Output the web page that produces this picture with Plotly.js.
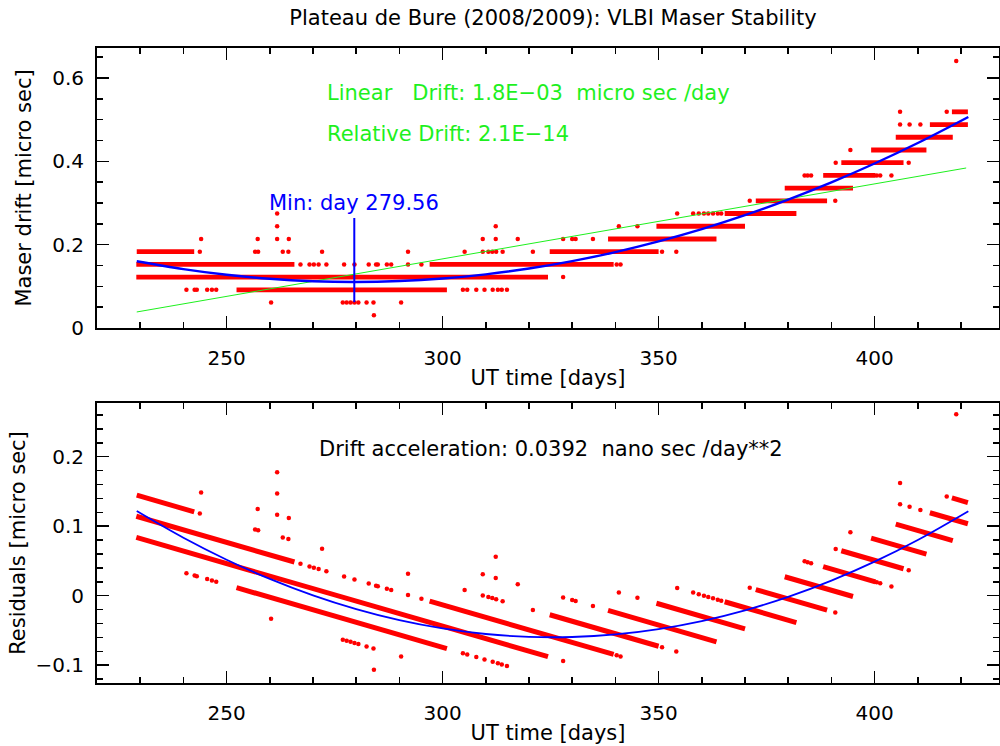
<!DOCTYPE html>
<html>
<head>
<meta charset="utf-8">
<script src="https://cdn.plot.ly/plotly-3.0.1.min.js"></script>
<style>html,body{margin:0;padding:0;background:#fff;}#chart{width:1000px;height:746px;}</style>
</head>
<body>
<div id="chart"></div>
<script>
// ---- Dense runs of samples (quantised maser drift levels, micro sec) ----
const segLevel = [0.1831,0.1831,0.1526,0.1526,0.1221,0.0916,0.2136,0.2441,0.2747,0.3052,0.3357,0.3662,0.3967,0.4272,0.4578,0.4883,0.5188];
const segStart = [229.2,324.8,229.1,297.0,229.1,252.3,338.3,349.5,365.3,372.5,379.2,388.1,392.3,399.2,404.9,412.8,417.9];
const segEnd   = [242.5,350.0,265.7,339.6,324.4,301.0,363.4,370.0,381.9,389.0,395.0,400.2,406.7,412.0,418.1,421.6,421.6];
// residuals at the start / end of each run
const segResStart = [0.1447,-0.0274,0.1144,-0.0078,0.0839,0.0116,-0.0212,-0.0108,-0.0087,0.0089,0.0273,0.0418,0.0647,0.0828,0.1031,0.1194,0.1407];
const segResEnd   = [0.1208,-0.0727,0.0485,-0.0845,-0.0877,-0.0760,-0.0664,-0.0477,-0.0386,-0.0208,-0.0011,0.0200,0.0388,0.0598,0.0794,0.1036,0.1341];

// ---- Isolated samples ----
const dotDay = [
  243.8,256.6,257.3,263.0,264.3,272.1,292.0,305.1,309.3,310.6,311.5,312.4,313.9,320.9,350.8,354.1,
  267.1,269.2,270.2,271.3,273.1,277.2,279.6,282.9,284.6,285.0,287.1,288.1,292.0,295.1,340.3,341.2,
  327.9,
  240.7,242.6,243.1,245.5,246.6,247.6,304.7,305.7,307.8,309.7,311.6,312.8,313.7,314.9,
  260.3,276.9,277.8,278.7,279.6,280.5,282.4,284.0,290.4,
  284.1,
  244.1,257.2,261.7,264.4,309.3,312.3,317.4,327.9,330.0,330.8,334.8,
  261.7,312.3,340.8,345.1,
  261.7,354.3,358.0,359.3,360.5,361.5,362.6,363.7,364.5,
  371.1,390.9,
  383.8,384.5,385.3,400.5,401.3,403.9,
  391.0,407.9,
  394.4,
  405.9,408.1,410.6,
  405.9,416.7,
  418.9];
const dotLevel = [
  0.1831,0.1831,0.1831,0.1831,0.1831,0.1831,0.1831,0.1831,0.1831,0.1831,0.1831,0.1831,0.1831,0.1831,0.1831,0.1831,
  0.1526,0.1526,0.1526,0.1526,0.1526,0.1526,0.1526,0.1526,0.1526,0.1526,0.1526,0.1526,0.1526,0.1526,0.1526,0.1526,
  0.1221,
  0.0916,0.0916,0.0916,0.0916,0.0916,0.0916,0.0916,0.0916,0.0916,0.0916,0.0916,0.0916,0.0916,0.0916,
  0.0611,0.0611,0.0611,0.0611,0.0611,0.0611,0.0611,0.0611,0.0611,
  0.0305,
  0.2136,0.2136,0.2136,0.2136,0.2136,0.2136,0.2136,0.2136,0.2136,0.2136,0.2136,
  0.2441,0.2441,0.2441,0.2441,
  0.2747,0.2747,0.2747,0.2747,0.2747,0.2747,0.2747,0.2747,0.2747,
  0.3052,0.3052,
  0.3662,0.3662,0.3662,0.3662,0.3662,0.3662,
  0.3967,0.3967,
  0.4272,
  0.4883,0.4883,0.4883,
  0.5188,0.5188,
  0.6409];
const dotResid = [
  0.1184,0.0954,0.0941,0.0839,0.0815,0.0675,0.0317,0.0081,0.0005,-0.0018,-0.0034,-0.0051,-0.0078,-0.0204,-0.0742,-0.0801,
  0.0460,0.0422,0.0404,0.0384,0.0352,0.0278,0.0235,0.0175,0.0145,0.0138,0.0100,0.0082,0.0012,-0.0044,-0.0858,-0.0874,
  -0.0940,
  0.0325,0.0291,0.0282,0.0239,0.0219,0.0201,-0.0827,-0.0845,-0.0883,-0.0917,-0.0951,-0.0973,-0.0989,-0.1011,
  -0.0333,-0.0632,-0.0648,-0.0664,-0.0680,-0.0696,-0.0731,-0.0759,-0.0875,
  -0.1067,
  0.1484,0.1248,0.1167,0.1118,0.0310,0.0256,0.0164,-0.0025,-0.0062,-0.0077,-0.0149,
  0.1472,0.0561,0.0048,-0.0029,
  0.1778,0.0111,0.0045,0.0021,0.0000,-0.0018,-0.0038,-0.0058,-0.0072,
  0.0114,-0.0243,
  0.0495,0.0483,0.0468,0.0195,0.0180,0.0133,
  0.0671,0.0366,
  0.0914,
  0.1318,0.1279,0.1234,
  0.1623,0.1429,
  0.2610];

// ---- Fits ----
const linDays = [229.2, 421.2];
const linVals = [0.0384, 0.384];
const fitDays  = [229.2,240,250,260,270,279.56,290,300,310,320,330,340,350,360,370,380,390,400,410,421.7];
const quadFit  = [0.1602,0.1412,0.1276,0.1180,0.1123,0.1105,0.1126,0.1187,0.1287,0.1426,0.1604,0.1821,0.2078,0.2373,0.2708,0.3082,0.3496,0.3948,0.4440,0.5065];
const resDays  = [229.2,240,250,260,270,280,290,300,310,320,330,340,350,360,370,380,390,400,410,421.7];
const quadRes  = [0.1218,0.0834,0.0518,0.0242,0.0005,-0.0193,-0.0352,-0.0471,-0.0551,-0.0592,-0.0594,-0.0557,-0.0480,-0.0365,-0.0210,-0.0016,0.0218,0.0490,0.0802,0.1216];
const minDay = 279.56;
const minMark = [0.062, 0.264];

// ---- Build traces ----
const RED = '#ff0000', GREEN = '#1ef01e', BLUE = '#0000ff';
function segXY(starts, ends, y1, y2) {
  const x = [], y = [];
  for (let i = 0; i < starts.length; i++) {
    x.push(starts[i], ends[i], null);
    y.push(y1[i], y2[i], null);
  }
  return {x, y};
}
const topSeg = segXY(segStart, segEnd, segLevel, segLevel);
const botSeg = segXY(segStart, segEnd, segResStart, segResEnd);

const traces = [
  {x: topSeg.x, y: topSeg.y, mode: 'lines', line: {color: RED, width: 4.8}, xaxis: 'x', yaxis: 'y', connectgaps: false},
  {x: dotDay, y: dotLevel, mode: 'markers', marker: {color: RED, size: 4.5}, xaxis: 'x', yaxis: 'y'},
  {x: linDays, y: linVals, mode: 'lines', line: {color: GREEN, width: 1}, xaxis: 'x', yaxis: 'y'},
  {x: fitDays, y: quadFit, mode: 'lines', line: {color: BLUE, width: 2.4, shape: 'spline'}, xaxis: 'x', yaxis: 'y'},
  {x: [minDay, minDay], y: minMark, mode: 'lines', line: {color: BLUE, width: 2}, xaxis: 'x', yaxis: 'y'},
  {x: botSeg.x, y: botSeg.y, mode: 'lines', line: {color: RED, width: 5}, xaxis: 'x2', yaxis: 'y2', connectgaps: false},
  {x: dotDay, y: dotResid, mode: 'markers', marker: {color: RED, size: 4.5}, xaxis: 'x2', yaxis: 'y2'},
  {x: resDays, y: quadRes, mode: 'lines', line: {color: BLUE, width: 1.8, shape: 'spline'}, xaxis: 'x2', yaxis: 'y2'}
];

const FONT = 'DejaVu Sans, sans-serif';
const TICKF = {family: FONT, size: 20, color: '#000'};
const TXTF = {family: FONT, size: 21, color: '#000'};
function xAx(anchor) {
  return {
    anchor: anchor, domain: [0, 1], range: [220, 428.8],
    tick0: 0, dtick: 50, ticks: 'inside', ticklen: 12, tickwidth: 1.5, tickcolor: '#000',
    minor: {dtick: 10, ticks: 'inside', ticklen: 6, tickwidth: 1.5, tickcolor: '#000'},
    showline: true, linewidth: 2, linecolor: '#000', mirror: 'allticks',
    showgrid: false, zeroline: false, ticklabelstandoff: 11,
    tickfont: TICKF,
    title: {text: 'UT time [days]', font: TXTF, standoff: 1}
  };
}
function yAx(anchor, domain, range, dtick, mdtick, title, standoff) {
  return {
    anchor: anchor, domain: domain, range: range,
    tick0: 0, dtick: dtick, ticks: 'inside', ticklen: 12, tickwidth: 1.5, tickcolor: '#000',
    minor: {dtick: mdtick, ticks: 'inside', ticklen: 6, tickwidth: 1.5, tickcolor: '#000'},
    showline: true, linewidth: 2, linecolor: '#000', mirror: 'allticks',
    showgrid: false, zeroline: false, ticklabelstandoff: 7,
    tickfont: TICKF,
    title: {text: title, font: TXTF, standoff: standoff}
  };
}

const layout = {
  width: 1000, height: 746,
  margin: {l: 97, r: 1, t: 48, b: 63},
  paper_bgcolor: '#fff', plot_bgcolor: '#fff',
  showlegend: false,
  font: TXTF,
  title: {text: 'Plateau de Bure (2008/2009): VLBI Maser Stability', x: 0.553, xanchor: 'center', y: 0.976, yanchor: 'middle',
          font: TXTF},
  xaxis: xAx('y'),
  yaxis: yAx('x', [0.5591, 1], [0, 0.672], 0.2, 0.05, 'Maser drift [micro sec]', 15),
  xaxis2: xAx('y2'),
  yaxis2: yAx('x2', [0, 0.4409], [-0.1256, 0.2773], 0.1, 0.02, 'Residuals [micro sec]', 4),
  annotations: [
    {xref: 'x', yref: 'y', x: 272.8, y: 0.564, xanchor: 'left', yanchor: 'middle', showarrow: false,
     text: 'Linear\u00a0\u00a0 Drift: 1.8E\u221203\u00a0\u00a0micro sec /day', font: {family: FONT, size: 21, color: GREEN}},
    {xref: 'x', yref: 'y', x: 272.8, y: 0.4656, xanchor: 'left', yanchor: 'middle', showarrow: false,
     text: 'Relative Drift: 2.1E\u221214', font: {family: FONT, size: 21, color: GREEN}},
    {xref: 'x', yref: 'y', x: minDay, y: 0.301, xanchor: 'center', yanchor: 'middle', showarrow: false,
     text: 'Min: day 279.56', font: {family: FONT, size: 21, color: BLUE}},
    {xref: 'x2', yref: 'y2', x: 270.9, y: 0.2107, xanchor: 'left', yanchor: 'middle', showarrow: false,
     text: 'Drift acceleration: 0.0392\u00a0\u00a0nano sec /day**2', font: {family: FONT, size: 21, color: '#000'}}
  ]
};

Plotly.newPlot('chart', traces, layout, {staticPlot: true, displayModeBar: false});
</script>
</body>
</html>
